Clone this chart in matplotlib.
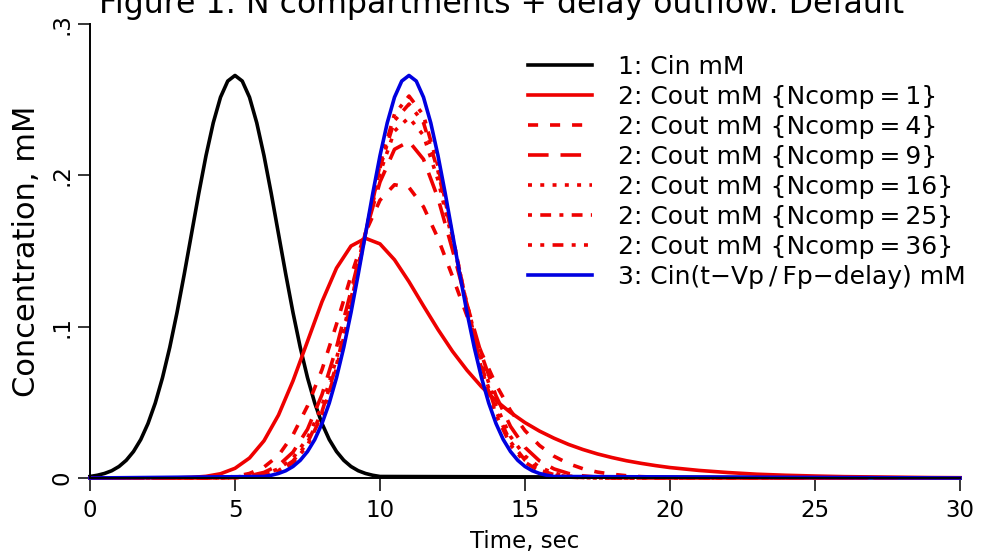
import matplotlib
matplotlib.use("Agg")
import matplotlib.pyplot as plt

# Cin(t), mM  (input curve)
t_in = [0, 0.25, 0.5, 0.75, 1.0, 1.25, 1.5, 1.75, 2.0, 2.25, 2.5, 2.75, 3.0, 3.25, 3.5, 3.75,
        4.0, 4.25, 4.5, 4.75, 5.0, 5.25, 5.5, 5.75, 6.0, 6.25, 6.5, 6.75, 7.0, 7.25, 7.5, 7.75,
        8.0, 8.25, 8.5, 8.75, 9.0, 9.25, 9.5, 9.75, 10.0, 30]
cin = [0.0010, 0.0018, 0.0030, 0.0048, 0.0076, 0.0117, 0.0175, 0.0254, 0.0360, 0.0495, 0.0663,
       0.0863, 0.1093, 0.1347, 0.1613, 0.1880, 0.2130, 0.2347, 0.2516, 0.2623, 0.2660, 0.2623,
       0.2516, 0.2347, 0.2130, 0.1880, 0.1613, 0.1347, 0.1093, 0.0863, 0.0663, 0.0495, 0.0360,
       0.0254, 0.0175, 0.0117, 0.0076, 0.0048, 0.0030, 0.0018, 0.0010, 0]

# Cin(t-Vp/Fp-delay), mM
t_del = [0, 6.0, 6.25, 6.5, 6.75, 7.0, 7.25, 7.5, 7.75, 8.0, 8.25, 8.5, 8.75, 9.0, 9.25, 9.5, 9.75,
         10.0, 10.25, 10.5, 10.75, 11.0, 11.25, 11.5, 11.75, 12.0, 12.25, 12.5, 12.75, 13.0, 13.25,
         13.5, 13.75, 14.0, 14.25, 14.5, 14.75, 15.0, 15.25, 15.5, 15.75, 16.0, 30]
cin_del = [0, 0.0010, 0.0018, 0.0030, 0.0048, 0.0076, 0.0117, 0.0175, 0.0254, 0.0360, 0.0495, 0.0663,
           0.0863, 0.1093, 0.1347, 0.1613, 0.1880, 0.2130, 0.2347, 0.2516, 0.2623, 0.2660, 0.2623,
           0.2516, 0.2347, 0.2130, 0.1880, 0.1613, 0.1347, 0.1093, 0.0863, 0.0663, 0.0495, 0.0360,
           0.0254, 0.0175, 0.0117, 0.0076, 0.0048, 0.0030, 0.0018, 0.0010, 0]

# Cout(t), mM for each Ncomp
t_out = [0, 3.0, 3.5, 4.0, 4.5, 5.0, 5.5, 6.0, 6.5, 7.0, 7.5, 8.0, 8.5, 9.0, 9.5, 10.0, 10.5,
         11.0, 11.5, 12.0, 12.5, 13.0, 13.5, 14.0, 14.5, 15.0, 15.5, 16.0, 16.5, 17.0, 17.5,
         18.0, 18.5, 19.0, 19.5, 20.0, 21, 22, 23, 24, 25, 26, 27, 28, 29, 30]
cout_1 = [0, 0.0001, 0.0004, 0.0011, 0.0028, 0.0064, 0.0132, 0.0246, 0.0416, 0.0642, 0.0903,
          0.1165, 0.1387, 0.1533, 0.1584, 0.1547, 0.1442, 0.1297, 0.1137, 0.0981, 0.0837, 0.0712,
          0.0603, 0.0511, 0.0433, 0.0366, 0.0310, 0.0263, 0.0222, 0.0188, 0.0159, 0.0135, 0.0114,
          0.0097, 0.0082, 0.0069, 0.0050, 0.0036, 0.0025, 0.0018, 0.0013, 0.0009, 0.0007, 0.0005,
          0.0003, 0.0002]
cout_4 = [0, 0, 0, 0.0001, 0.0003, 0.0010, 0.0030, 0.0072, 0.0149, 0.0285, 0.0476, 0.0716, 0.1016,
          0.1335, 0.1623, 0.1836, 0.1938, 0.1920, 0.1792, 0.1584, 0.1332, 0.1071, 0.0828, 0.0617,
          0.0446, 0.0313, 0.0215, 0.0144, 0.0095, 0.0061, 0.0039, 0.0025, 0.0015, 0.0009, 0.0006,
          0.0003, 0.0001, 0, 0, 0, 0, 0, 0, 0, 0, 0]
cout_9 = [0, 0, 0, 0, 0.0001, 0.0006, 0.0015, 0.0037, 0.0083, 0.0171, 0.0322, 0.0551, 0.0863,
          0.1236, 0.1622, 0.1956, 0.2172, 0.2224, 0.2106, 0.1849, 0.1508, 0.1147, 0.0815, 0.0543,
          0.0341, 0.0202, 0.0113, 0.0060, 0.0030, 0.0014, 0.0006, 0.0003, 0.0001, 0, 0,
          0, 0, 0, 0, 0, 0, 0, 0, 0, 0, 0]
cout_16 = [0, 0, 0, 0, 0, 0.0003, 0.0009, 0.0025, 0.0060, 0.0132, 0.0263, 0.0477, 0.0788,
           0.1183, 0.1617, 0.2016, 0.2293, 0.2382, 0.2264, 0.1969, 0.1571, 0.1150, 0.0774, 0.0480,
           0.0274, 0.0145, 0.0071, 0.0032, 0.0013, 0.0005, 0.0002, 0.0001, 0, 0, 0,
           0, 0, 0, 0, 0, 0, 0, 0, 0, 0, 0]
cout_25 = [0, 0, 0, 0, 0, 0.0002, 0.0007, 0.0019, 0.0049, 0.0112, 0.0233, 0.0439, 0.0747,
           0.1154, 0.1615, 0.2051, 0.2362, 0.2471, 0.2348, 0.2028, 0.1594, 0.1140, 0.0743, 0.0441,
           0.0239, 0.0118, 0.0053, 0.0022, 0.0008, 0.0003, 0.0001, 0, 0, 0, 0,
           0, 0, 0, 0, 0, 0, 0, 0, 0, 0, 0]
cout_36 = [0, 0, 0, 0, 0, 0.0002, 0.0006, 0.0016, 0.0043, 0.0101, 0.0216, 0.0416, 0.0724,
           0.1137, 0.1614, 0.2072, 0.2404, 0.2524, 0.2397, 0.2060, 0.1603, 0.1130, 0.0722, 0.0418,
           0.0219, 0.0104, 0.0045, 0.0018, 0.0006, 0.0002, 0.0001, 0, 0, 0, 0,
           0, 0, 0, 0, 0, 0, 0, 0, 0, 0, 0]

ncomp = [1, 4, 9, 16, 25, 36]
couts = [cout_1, cout_4, cout_9, cout_16, cout_25, cout_36]
red_styles = ['-', (0, (2.8, 3.3)), (0, (5.7, 3.3)), (0, (1.1, 2.3)),
              (0, (1.1, 2.3, 3.0, 2.3)), (0, (1.1, 2.3, 1.1, 2.3, 3.0, 2.3))]

xticks = [0, 5, 10, 15, 20, 25, 30]
yticks = [0, 0.1, 0.2, 0.3]
ytick_labels = ['0', '.1', '.2', '.3']

fig = plt.figure(figsize=(9.84, 5.58), dpi=100)
ax = fig.add_axes([90/984, 1 - 478/558, 870/984, 454/558])

lw = 2.6
ax.plot(t_in, cin, color='black', lw=lw, clip_on=False, label='1: Cin mM')
for n, c, ls in zip(ncomp, couts, red_styles):
    ax.plot(t_out, c, color='#ee0000', lw=lw, ls=ls, clip_on=False,
            label='2: Cout mM {Ncomp\u2009=\u2009%d}' % n)
ax.plot(t_del, cin_del, color='#0000e0', lw=lw, clip_on=False,
        label='3: Cin(t\u2212Vp\u2009/\u2009Fp\u2212delay) mM')

ax.set_xlim(0, 30)
ax.set_ylim(0, 0.3)
for s in ['top', 'right']:
    ax.spines[s].set_visible(False)
for s in ['left', 'bottom']:
    ax.spines[s].set_linewidth(1.4)
ax.set_xticks(xticks)
ax.set_yticks(yticks)
ax.set_yticklabels(ytick_labels, rotation=90, va='center')
ax.tick_params(direction='out', length=9, width=1.1, labelsize=16.5)
ax.tick_params(axis='y', pad=3)
ax.tick_params(axis='x', pad=6)

ax.set_xlabel('Time, sec', fontsize=16.5, labelpad=6)
ax.set_ylabel('Concentration, mM', fontsize=22, labelpad=7)

fig.text(0.51, 1 - 13/558, 'Figure 1: N compartments + delay outflow: Default',
         ha='center', va='baseline', fontsize=22.7)

ax.legend(loc='upper left', bbox_to_anchor=(528/984, 1 - 55/558), bbox_transform=fig.transFigure,
          frameon=False, fontsize=18, handlelength=2.56, handletextpad=1.04, labelspacing=0.24,
          borderpad=0, borderaxespad=0)

fig.savefig('out.png', dpi=100)
